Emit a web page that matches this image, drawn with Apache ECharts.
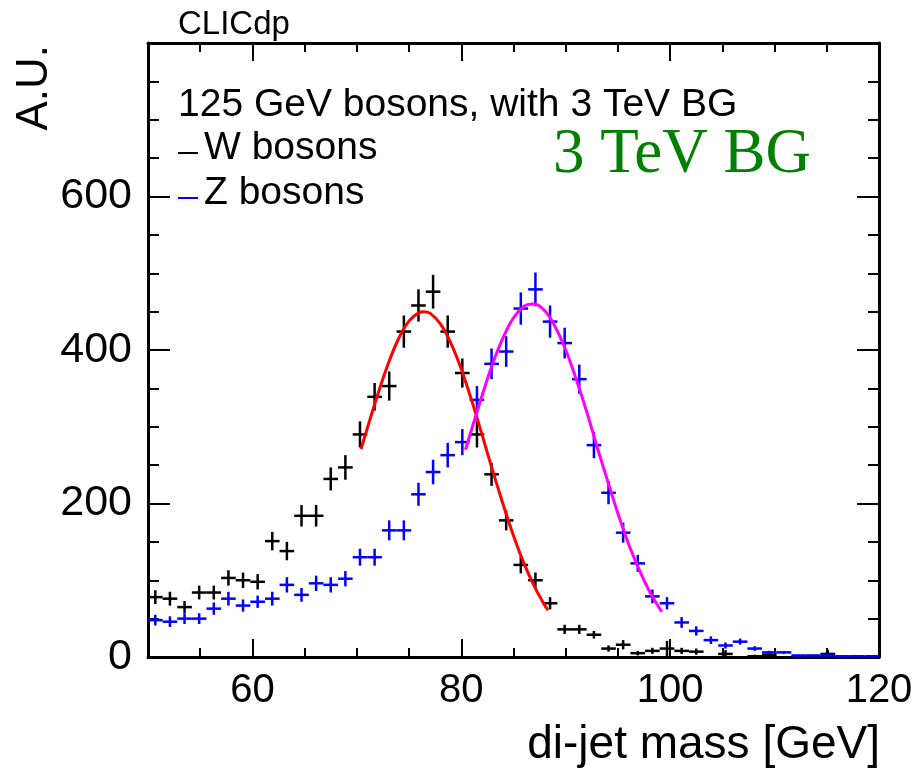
<!DOCTYPE html>
<html><head><meta charset="utf-8">
<script src="https://cdn.jsdelivr.net/npm/echarts@6/dist/echarts.min.js"></script>
<style>html,body{margin:0;padding:0;background:#fff}#c{width:924px;height:772px}</style>
</head><body><div id="c"></div>
<script>
// Histogram binning: 50 bins from 50 to 120 GeV
const binLow = 50, binWidth = 1.4;
// W bosons (black) bin contents and errors
const wCounts = [78,76,65,84,84,103,100,98,151,138,184,184,232,247,290,339,353,424,458,476,424,370,290,238,178,120,100,70,36,36,29,11,16,5,8,11,8,7,0,4,0,1,3,0,0,0,4,0,0,0];
const wErrors = [9,9,8,9,9,10,10,10,12,12,14,14,15,16,17,18,19,21,21,22,21,19,17,15,13,11,10,8,6,6,5,4,6,3,4,10,4,4,0,5,0,2,4,0,0,0,5,0,0,0];
// Z bosons (blue) bin contents and errors
const zCounts = [48,46,50,50,63,76,67,72,76,94,81,96,94,102,130,130,165,165,212,241,263,280,335,382,398,454,479,437,409,362,276,214,162,122,79,70,45,34,22,15,20,11,6,6,2,2,2,1,1,1];
const zErrors = [7,7,7,7,8,9,8,8,9,10,9,10,10,10,11,11,13,13,15,16,16,17,18,20,20,21,22,21,20,19,17,15,13,11,9,8,7,6,5,4,4,3,2,2,1,1,1,1,1,1];
// Fit curves
const wFitX = [70.4,71,72,73,74,75,76,76.4,77,78,79,80,81,82,83,84,85,86,87,88,88.3];
const wFitY = [271,298,342,382,415,438,449,450,448,434,409,375,334,289,243,199,158,122,92,67,61];
const zFitX = [80.4,81,82,83,84,85,86,86.75,87,88,89,90,91,92,93,94,95,96,97,98,99,99.2];
const zFitY = [270,297,341,382,416,442,457,460,460,451,430,400,362,320,274,230,187,148,115,86,63,59];
// Axis ticks
const xMajorTicks = [60,80,100,120];
const xMinorTicks = [55,65,70,75,85,90,95,105,110,115];
const yLabelTicks = [0,200,400,600];
const yMajorTicks = [200,400,600];
const yMinorTicks = [50,100,150,250,300,350,450,500,550,650,700,750];

const chart = echarts.init(document.getElementById('c'));
const FONT = '"Liberation Sans", Arial, Helvetica, sans-serif';

function xAx(pos, ticks, len, showLine, labels) {
  return {
    type: 'value', min: 50, max: 120, position: pos, gridIndex: 0,
    axisLine: {show: showLine, onZero: false, lineStyle: {color: '#000', width: 3}},
    axisTick: {show: true, inside: true, length: len, customValues: ticks, lineStyle: {color: '#000', width: 2}},
    axisLabel: labels ? {show: true, customValues: xMajorTicks, fontSize: 40, fontFamily: FONT, color: '#000', margin: 14} : {show: false},
    splitLine: {show: false}
  };
}
function yAx(pos, ticks, len, showLine, labels) {
  return {
    type: 'value', min: 0, max: 800, position: pos, gridIndex: 0,
    axisLine: {show: showLine, onZero: false, lineStyle: {color: '#000', width: 3}},
    axisTick: {show: true, inside: true, length: len, customValues: ticks, lineStyle: {color: '#000', width: 2}},
    axisLabel: labels ? {show: true, customValues: yLabelTicks, fontSize: 43, fontFamily: FONT, color: '#000', margin: 16} : {show: false},
    splitLine: {show: false}
  };
}

function errRender(color) {
  return function (params, api) {
    const x = api.value(0), y = api.value(1), e = api.value(2);
    if (!(y > 0)) return null;
    const a = api.coord([x - binWidth / 2, y]), b = api.coord([x + binWidth / 2, y]);
    const c = api.coord([x, Math.max(0, y - e)]), d = api.coord([x, y + e]);
    return {type: 'group', children: [
      {type: 'line', shape: {x1: a[0], y1: a[1], x2: b[0], y2: b[1]}, style: {stroke: color, lineWidth: 2.5}},
      {type: 'line', shape: {x1: c[0], y1: c[1], x2: d[0], y2: d[1]}, style: {stroke: color, lineWidth: 2.5}}
    ]};
  };
}
const binCenter = i => binLow + binWidth * (i + 0.5);

chart.setOption({
  animation: false,
  backgroundColor: '#fff',
  grid: {left: 148, right: 45, top: 43, bottom: 115, containLabel: false},
  xAxis: [
    xAx('bottom', xMajorTicks, 18, true, true),
    xAx('bottom', xMinorTicks, 9, false, false),
    xAx('top', xMajorTicks, 18, true, false),
    xAx('top', xMinorTicks, 9, false, false)
  ],
  yAxis: [
    yAx('left', yMajorTicks, 22, true, true),
    yAx('left', yMinorTicks, 11, false, false),
    yAx('right', yMajorTicks, 22, true, false),
    yAx('right', yMinorTicks, 11, false, false)
  ],
  series: [
    {type: 'custom', name: 'W bosons', xAxisIndex: 0, yAxisIndex: 0, clip: true,
     renderItem: errRender('#000000'), encode: {x: 0, y: 1},
     data: wCounts.map((v, i) => [binCenter(i), v, wErrors[i]])},
    {type: 'custom', name: 'Z bosons', xAxisIndex: 0, yAxisIndex: 0, clip: true,
     renderItem: errRender('#0000ff'), encode: {x: 0, y: 1},
     data: zCounts.map((v, i) => [binCenter(i), v, zErrors[i]])},
    {type: 'line', name: 'W fit', xAxisIndex: 0, yAxisIndex: 0, smooth: 0.4, showSymbol: false,
     lineStyle: {color: '#ff0000', width: 3}, data: wFitX.map((x, i) => [x, wFitY[i]])},
    {type: 'line', name: 'Z fit', xAxisIndex: 0, yAxisIndex: 0, smooth: 0.4, showSymbol: false,
     lineStyle: {color: '#ff00ff', width: 3}, data: zFitX.map((x, i) => [x, zFitY[i]])}
  ],
  graphic: [
    {type: 'text', x: 178, y: 25, style: {text: 'CLICdp', font: '33px ' + FONT, fill: '#000', align: 'left', verticalAlign: 'middle'}},
    {type: 'text', x: 35, y: 45, rotation: Math.PI / 2,
     style: {text: 'A.U.', font: '44px ' + FONT, fill: '#000', align: 'right', verticalAlign: 'middle'}},
    {type: 'text', x: 880, y: 745, style: {text: 'di-jet mass [GeV]', font: '46px ' + FONT, fill: '#000', align: 'right', verticalAlign: 'middle'}},
    {type: 'text', x: 178, y: 105, style: {text: '125 GeV bosons, with 3 TeV BG', font: '39px ' + FONT, fill: '#000', align: 'left', verticalAlign: 'middle'}},
    {type: 'line', shape: {x1: 178, y1: 153, x2: 198, y2: 153}, style: {stroke: '#000', lineWidth: 2}},
    {type: 'text', x: 204, y: 148, style: {text: 'W bosons', font: '39px ' + FONT, fill: '#000', align: 'left', verticalAlign: 'middle'}},
    {type: 'line', shape: {x1: 178, y1: 198, x2: 198, y2: 198}, style: {stroke: '#0000ff', lineWidth: 2}},
    {type: 'text', x: 204, y: 193, style: {text: 'Z bosons', font: '39px ' + FONT, fill: '#000', align: 'left', verticalAlign: 'middle'}},
    {type: 'text', x: 553, y: 155, style: {text: '3 TeV BG', font: '63px "Liberation Serif", "Times New Roman", serif', fill: '#008000', align: 'left', verticalAlign: 'middle'}}
  ]
});
</script></body></html>
